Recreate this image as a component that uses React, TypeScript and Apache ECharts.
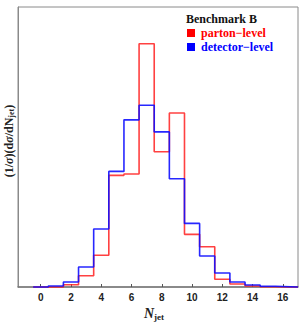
import React, { useEffect, useRef } from "react";
import * as echarts from "echarts";

const bins = [0, 1, 2, 3, 4, 5, 6, 7, 8, 9, 10, 11, 12, 13, 14, 15, 16];
const partonLevel = [0, 0, 0.0025, 0.0122, 0.0342, 0.1204, 0.1218, 0.2623, 0.1459, 0.1876, 0.0568, 0.0434, 0.0083, 0.0032, 0.0011, 0.0003, 0];
const detectorLevel = [0, 0.0011, 0.0054, 0.0216, 0.0625, 0.1247, 0.1803, 0.1961, 0.1673, 0.1167, 0.0686, 0.0334, 0.0151, 0.0054, 0.0022, 0.0008, 0.0003];
const xTicks = [0, 2, 4, 6, 8, 10, 12, 14, 16];
const legendTitle = "Benchmark B";
const seriesNames = ["parton\u2212level", "detector\u2212level"];

const SERIF = "'Liberation Serif', 'Times New Roman', serif";
const SANS = "'Liberation Sans', Arial, sans-serif";

function steps(values: number[]): number[][] {
  const pts: number[][] = [];
  bins.forEach((c, i) => {
    pts.push([c - 0.5, values[i]]);
    pts.push([c + 0.5, values[i]]);
  });
  pts.push([bins[bins.length - 1] + 0.5, 0]);
  pts.push([17, 0]);
  return pts;
}

export default function App() {
  const ref = useRef<HTMLDivElement>(null);
  useEffect(() => {
    if (!ref.current) return;
    const chart = echarts.init(ref.current, undefined, { renderer: "svg" });
    chart.setOption({
      animation: false,
      backgroundColor: "#fff",
      grid: {
        left: 18,
        top: 7,
        right: 2,
        bottom: 35,
        show: true,
        borderColor: "#8a8a8a",
        borderWidth: 1,
        containLabel: false,
        outerBoundsMode: "none",
      },
      xAxis: {
        type: "value",
        min: -1.5,
        max: 17,
        name: "{i|N}{s|jet}",
        nameLocation: "middle",
        nameGap: 17,
        nameTextStyle: {
          padding: [0, 8, 0, 0],
          rich: {
            i: { fontFamily: SERIF, fontStyle: "italic", fontWeight: "bold", fontSize: 14, color: "#222" },
            s: { fontFamily: SERIF, fontWeight: "bold", fontSize: 9, color: "#222", padding: [7, 0, 0, 0] },
          },
        },
        splitLine: { show: false },
        axisLine: { show: true, onZero: false, lineStyle: { color: "#777", width: 1.5 } },
        axisTick: {
          show: true,
          inside: true,
          length: 3,
          customValues: xTicks,
          lineStyle: { color: "#555", width: 1 },
        },
        axisLabel: {
          customValues: xTicks,
          fontFamily: SANS,
          fontWeight: "bold",
          fontSize: 10,
          color: "#222",
          margin: 5,
        },
      },
      yAxis: {
        type: "value",
        min: 0,
        max: 0.302,
        name: "{a|(1/}{i|\u03c3}{a|)(d}{i|\u03c3}{a|/dN}{s|jet}{a|)}",
        nameLocation: "middle",
        nameRotate: 90,
        nameGap: 3,
        nameTextStyle: {
          padding: [0, 0, 0, 12],
          rich: {
            a: { fontFamily: SERIF, fontWeight: "bold", fontSize: 12, lineHeight: 12, color: "#222" },
            i: { fontFamily: SERIF, fontStyle: "italic", fontWeight: "bold", fontSize: 12, lineHeight: 12, color: "#222" },
            s: { fontFamily: SERIF, fontWeight: "bold", fontSize: 8, lineHeight: 8, color: "#222", padding: [5, 0, 0, 0] },
          },
        },
        splitLine: { show: false },
        axisLine: { show: true, onZero: false, lineStyle: { color: "#8a8a8a", width: 1 } },
        axisTick: { show: false },
        axisLabel: { show: false },
      },
      series: [
        {
          name: seriesNames[0],
          type: "line",
          data: steps(partonLevel),
          showSymbol: false,
          symbol: "none",
          lineStyle: { color: "#ff2020", width: 1.6, opacity: 0.85 },
          clip: false,
          z: 2,
        },
        {
          name: seriesNames[1],
          type: "line",
          data: steps(detectorLevel),
          showSymbol: false,
          symbol: "none",
          lineStyle: { color: "#1010ff", width: 1.6, opacity: 0.9 },
          clip: false,
          z: 3,
        },
      ],
      graphic: [
        {
          type: "text",
          x: 186,
          y: 19,
          style: { text: legendTitle, font: `bold 12px ${SERIF}`, fill: "#111", verticalAlign: "middle" },
        },
        { type: "rect", shape: { x: 187, y: 29, width: 8, height: 8 }, style: { fill: "#ff0000" } },
        {
          type: "text",
          x: 201,
          y: 33,
          style: { text: seriesNames[0], font: `bold 12px ${SERIF}`, fill: "#ff0000", verticalAlign: "middle" },
        },
        { type: "rect", shape: { x: 187, y: 43, width: 8, height: 8 }, style: { fill: "#0000ff" } },
        {
          type: "text",
          x: 201,
          y: 47,
          style: { text: seriesNames[1], font: `bold 12px ${SERIF}`, fill: "#0000ff", verticalAlign: "middle" },
        },
      ],
    });
    return () => chart.dispose();
  }, []);
  return <div ref={ref} style={{ width: 300, height: 322, position: "absolute", left: 0, top: 0 }} />;
}
